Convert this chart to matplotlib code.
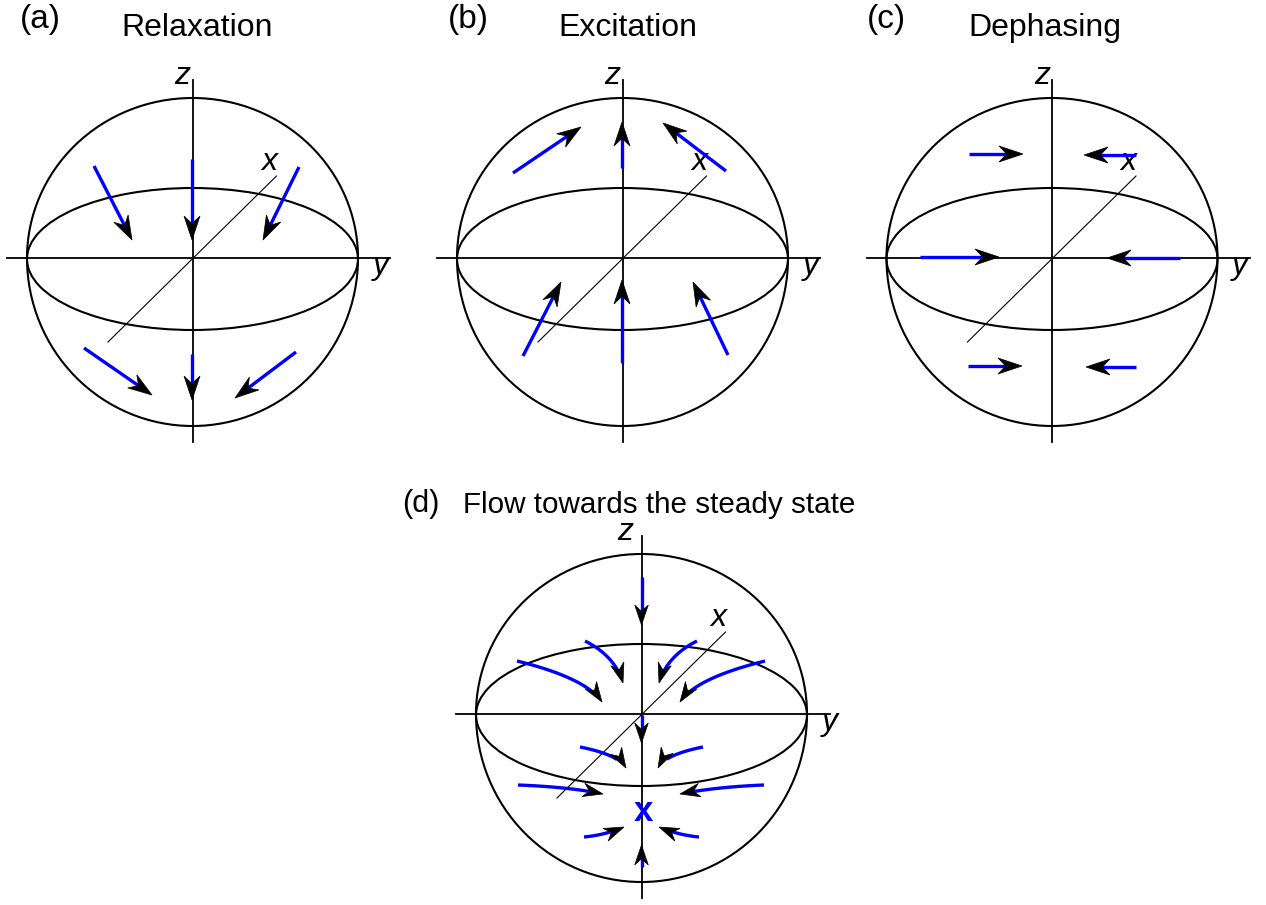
import numpy as np
import matplotlib.pyplot as plt
from matplotlib.patches import Polygon, Arc

plt.rcParams['font.family'] = ['Liberation Sans', 'DejaVu Sans']

# ==================================================
# panel data
# ==================================================

panel_labels = ['(a)', '(b)', '(c)', '(d)']
panel_titles = ['Relaxation', 'Excitation', 'Dephasing', 'Flow towards the steady state']

# sphere centres (pixels)
center_x = [192.5, 622.5, 1052, 641.5]
center_y = [258, 258, 258, 714]

# label / title anchors
label_x = [20, 448, 867, 402]
label_y = [28, 28, 28, 512]
title_x = [197, 628, 1045, 463]
title_y = [36, 36, 36, 513]
title_ha = ['center', 'center', 'center', 'left']
title_size = [23, 23, 23, 21.3]
label_size = [24, 24, 24, 22]
z_label_dx = [-10, -10, -10, -16]
y_axis_right = [197.5, 197.5, 198, 188.5]

# arrows relative to sphere centre: start, control, tip
# (a) relaxation
a_start = [(-98.5, -92), (-0.5, -99), (106.5, -91), (-108.5, 90), (-0.5, 96), (103.5, 94)]
a_tip = [(-60.5, -18), (-0.5, -18), (70.5, -18), (-40.5, 137), (-0.5, 142), (42.5, 140)]

# (b) excitation
b_start = [(-109.5, -85), (-0.5, -90), (103.5, -87), (-99.5, 98), (-0.5, 105), (105.5, 97)]
b_tip = [(-41.5, -131), (-0.5, -136), (40.5, -135), (-61.5, 24), (-0.5, 22), (70.5, 24)]

# (c) dephasing
c_start = [(-83, -104), (84, -103), (-132, -1), (128, 0), (-84, 108), (84, 109)]
c_tip = [(-29, -104), (32, -103), (-53, -1), (55, 0), (-30, 108), (34, 109)]

# (d) flow towards steady state
d_start = [(0, -137), (-56.5, -73), (55.5, -73), (-124.5, -53), (123.5, -53),
           (0, 1), (-61.5, 33), (61.5, 33), (-123.5, 71), (122.5, 71),
           (-57.5, 123), (57.5, 123), (0, 153)]
d_ctrl = [None, (-26.5, -58), (25.5, -58), (-55.5, -36), (54.5, -36),
          None, (-23.5, 40.5), (23.5, 40.5), (-71.5, 73), (73.5, 73),
          (-36.5, 121), (36.5, 121), None]
d_tip = [(0, -89), (-18.5, -31), (17.5, -31), (-39.5, -12), (38.5, -12),
         (0, 29), (-15.5, 54), (16.5, 54), (-38.5, 80), (38.5, 80),
         (-17.5, 113), (17.5, 113), (0, 131)]

steady_state = (1.5, 97)

arrow_sets = [
    (a_start, [None] * 6, a_tip),
    (b_start, [None] * 6, b_tip),
    (c_start, [None] * 6, c_tip),
    (d_start, d_ctrl, d_tip),
]
head_len = [24, 24, 24, 20]
head_w = [8, 8, 8, 6.8]

# ==================================================
# drawing helpers
# ==================================================

R = 165.5
R_top = 160
R_bot = 168
EQ_B = 71


def draw_arrow(ax, p0, p1, p2, L, W):
    p0 = np.array(p0, float)
    p2 = np.array(p2, float)
    if p1 is None:
        # straight arrow
        u = p2 - p0
        u = u / np.hypot(*u)
        end = p2 - 0.6 * L * u
        ax.plot([p0[0], end[0]], [p0[1], end[1]], color='#0000ff', lw=2.4,
                solid_capstyle='butt', zorder=3)
    else:
        p1 = np.array(p1, float)
        t = np.linspace(0, 1, 80)[:, None]
        pts = (1 - t) ** 2 * p0 + 2 * (1 - t) * t * p1 + t ** 2 * p2
        keep = np.hypot(*(pts - p2).T) > 0.6 * L
        ax.plot(pts[keep, 0], pts[keep, 1], color='#0000ff', lw=2.4,
                solid_capstyle='butt', zorder=3)
        u = p2 - p1
        u = u / np.hypot(*u)
    n = np.array([-u[1], u[0]])
    head = [p2, p2 - L * u + W * n, p2 - 0.68 * L * u, p2 - L * u - W * n]
    ax.add_patch(Polygon(head, closed=True, facecolor='black',
                         edgecolor='black', lw=0.5, zorder=4))


fig = plt.figure(figsize=(12.66, 9.05), dpi=100)
ax = fig.add_axes([0, 0, 1, 1])
ax.set_xlim(0, 1266)
ax.set_ylim(905, 0)
ax.axis('off')

for i in range(4):
    cx, cy = center_x[i], center_y[i]

    # sphere outline: upper and lower halves
    ax.add_patch(Arc((cx, cy), 2 * R, 2 * R_top, theta1=180, theta2=360,
                     color='black', lw=1.5))
    ax.add_patch(Arc((cx, cy), 2 * R, 2 * R_bot, theta1=0, theta2=180,
                     color='black', lw=1.5))
    # equator
    ax.add_patch(Arc((cx, cy + 1), 2 * R, 2 * EQ_B, color='black', lw=1.5))

    # axes
    ax.plot([cx, cx], [cy - 178, cy + 184], color='black', lw=1.3, zorder=2)
    ax.plot([cx - 185.5, cx + y_axis_right[i]], [cy, cy], color='black', lw=1.3, zorder=2)
    ax.plot([cx - 84.5, cx + 84], [cy + 84, cy - 82], color='black', lw=0.8, zorder=2)

    ax.text(cx + z_label_dx[i], cy - 174, 'z', fontsize=23, style='italic',
            ha='center', va='baseline')
    ax.text(cx + 76.5, cy - 88, 'x', fontsize=23, style='italic',
            ha='center', va='baseline')
    ax.text(cx + 188, cy + 16, 'y', fontsize=23, style='italic',
            ha='center', va='baseline')

    ax.text(label_x[i], label_y[i], panel_labels[i], fontsize=label_size[i],
            ha='left', va='baseline')
    ax.text(title_x[i], title_y[i], panel_titles[i], fontsize=title_size[i],
            ha=title_ha[i], va='baseline')

    starts, ctrls, tips = arrow_sets[i]
    for s, c, e in zip(starts, ctrls, tips):
        p0 = (cx + s[0], cy + s[1])
        p2 = (cx + e[0], cy + e[1])
        p1 = None if c is None else (cx + c[0], cy + c[1])
        draw_arrow(ax, p0, p1, p2, head_len[i], head_w[i])

# steady state marker
ax.text(center_x[3] + steady_state[0], center_y[3] + steady_state[1], 'x',
        fontsize=25, fontweight='bold', color='#0000ff', ha='center', va='center')

plt.savefig('out.png', dpi=100)
